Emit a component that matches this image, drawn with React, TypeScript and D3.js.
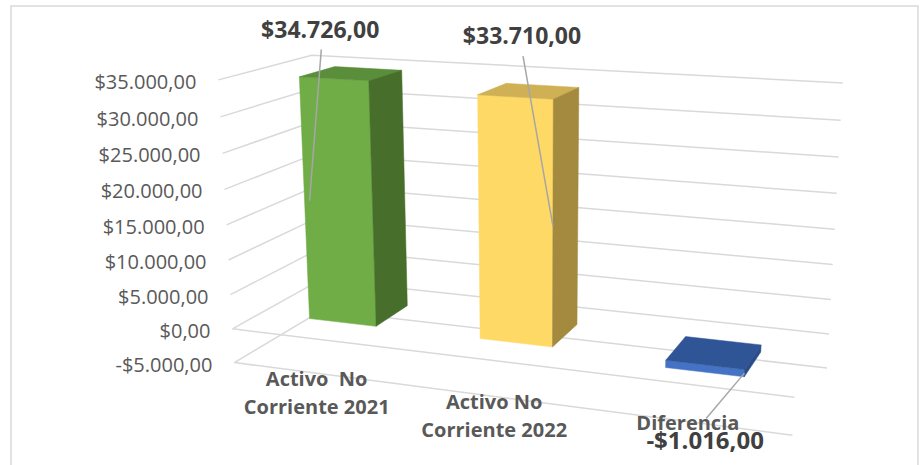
import { useRef, useEffect } from 'react';
import * as d3 from 'd3';

const W = 921;
const H = 465;

const categories = ['Activo  No\nCorriente 2021', 'Activo No\nCorriente 2022', 'Diferencia'];
const values = [34726, 33710, -1016];
const yTicks = [-5000, 0, 5000, 10000, 15000, 20000, 25000, 30000, 35000];
const frontColors = ['#70ad47', '#ffd966', '#4472c4'];
const topColors = ['#5b8e3a', '#cfb054', '#2f5597'];
const sideColors = ['#476f2b', '#a38a3f', '#2a4d8a'];

// value labels sit where Excel dropped them, relative to the top centre of each bar
const labelOffsets = [[-31, -44], [-7, -55], [-9, 88]];
const labelSizes = [23, 23, 24];

// corners of the 3d box as they appear on screen: [category x, value, depth z, px, py]
const frame = [
  [0, 35000, 0, 218, 80], [0, 35000, 1, 312, 55], [3, 35000, 1, 843, 83],
  [0, 30000, 0, 221, 117], [3, 30000, 1, 841, 120], [3, 25000, 1, 838, 157],
  [3, 20000, 1, 836, 193], [3, 10000, 1, 833, 265], [3, 5000, 1, 831, 300],
  [3, 0, 1, 829, 334], [3, -5000, 1, 827, 368], [0, 5000, 0, 230, 295],
  [0, 0, 0, 232, 329], [0, -5000, 0, 235, 362], [3, 0, 0, 795, 397],
  [3, -5000, 0, 792, 435],
];

const yWorld = d3.scaleLinear().domain([-5000, 35000]).range([-0.5, 3.5]);

// least squares DLT: 3d -> screen perspective matrix
function fitProjection() {
  const n = 11;
  const M = Array.from({ length: n }, () => new Array(n).fill(0));
  const r = new Array(n).fill(0);
  const add = (row, b) => {
    for (let i = 0; i < n; i++) {
      r[i] += row[i] * b;
      for (let j = 0; j < n; j++) M[i][j] += row[i] * row[j];
    }
  };
  for (const [X, v, Z, px, py] of frame) {
    const Y = yWorld(v);
    const u = (px - 460) / 400, w = (py - 250) / 400;
    add([X, Y, Z, 1, 0, 0, 0, 0, -u * X, -u * Y, -u * Z], u);
    add([0, 0, 0, 0, X, Y, Z, 1, -w * X, -w * Y, -w * Z], w);
  }
  for (let c = 0; c < n; c++) {
    let piv = c;
    for (let k = c + 1; k < n; k++) if (Math.abs(M[k][c]) > Math.abs(M[piv][c])) piv = k;
    [M[c], M[piv]] = [M[piv], M[c]];
    [r[c], r[piv]] = [r[piv], r[c]];
    for (let k = c + 1; k < n; k++) {
      const f = M[k][c] / M[c][c];
      for (let j = c; j < n; j++) M[k][j] -= f * M[c][j];
      r[k] -= f * r[c];
    }
  }
  const p = new Array(n).fill(0);
  for (let c = n - 1; c >= 0; c--) {
    let s = r[c];
    for (let j = c + 1; j < n; j++) s -= M[c][j] * p[j];
    p[c] = s / M[c][c];
  }
  return (X, v, Z) => {
    const Y = yWorld(v);
    const d = p[8] * X + p[9] * Y + p[10] * Z + 1;
    return [
      ((p[0] * X + p[1] * Y + p[2] * Z + p[3]) / d) * 400 + 460,
      ((p[4] * X + p[5] * Y + p[6] * Z + p[7]) / d) * 400 + 250,
    ];
  };
}

const locale = d3.formatLocale({ decimal: ',', thousands: '.', grouping: [3], currency: ['$', ''], minus: '-' });
const money = locale.format('$,.2f');

export default function App() {
  const svgRef = useRef(null);

  useEffect(() => {
    const svg = d3.select(svgRef.current);
    svg.selectAll('*').remove();

    const proj = fitProjection();
    const x = d3.scaleBand().domain(d3.range(values.length)).range([0, 3]).paddingInner(0.6).paddingOuter(0.3);
    const z0 = 0.3, z1 = 0.7;
    const line = d3.line();

    svg.append('rect')
      .attr('x', 11).attr('y', 6).attr('width', 907).attr('height', 470)
      .attr('fill', '#fff').attr('stroke', '#d9d9d9').attr('stroke-width', 1.5);

    // gridlines on side wall + back wall
    svg.append('g').selectAll('path')
      .data(yTicks)
      .join('path')
      .attr('d', t => line([proj(0, t, 0), proj(0, t, 1), proj(3, t, 1)]))
      .attr('fill', 'none')
      .attr('stroke', '#d9d9d9')
      .attr('stroke-width', 1.5);

    // floor front edges
    svg.append('g').selectAll('path')
      .data([0, -5000])
      .join('path')
      .attr('d', t => line([proj(0, t, 0), proj(3, t, 0)]))
      .attr('fill', 'none')
      .attr('stroke', '#d9d9d9')
      .attr('stroke-width', 1.5);

    // bars
    const bars = svg.append('g');
    values.forEach((v, i) => {
      const a = x(i), b = x(i) + x.bandwidth();
      const hi = Math.max(0, v), lo = Math.min(0, v);
      const faces = [
        { pts: [[a, lo, z0], [b, lo, z0], [b, hi, z0], [a, hi, z0]], fill: frontColors[i] },
        { pts: [[a, hi, z0], [b, hi, z0], [b, hi, z1], [a, hi, z1]], fill: topColors[i] },
        { pts: [[b, lo, z0], [b, lo, z1], [b, hi, z1], [b, hi, z0]], fill: sideColors[i] },
      ];
      bars.append('g').selectAll('path')
        .data(faces)
        .join('path')
        .attr('d', f => line(f.pts.map(q => proj(q[0], q[1], q[2]))) + 'Z')
        .attr('fill', f => f.fill)
        .attr('stroke', f => f.fill)
        .attr('stroke-width', 0.5);
    });

    // y axis labels
    svg.append('g').selectAll('text')
      .data(yTicks)
      .join('text')
      .attr('x', t => proj(0, t, 0)[0] - 22)
      .attr('y', t => proj(0, t, 0)[1] + 2)
      .attr('dy', '0.35em')
      .attr('text-anchor', 'end')
      .attr('font-family', '"Open Sans", sans-serif')
      .attr('font-size', 20)
      .attr('fill', '#595959')
      .text(t => money(t));

    // category labels
    const cat = svg.append('g');
    categories.forEach((c, i) => {
      const [cx, cy] = proj(x(i) + x.bandwidth() / 2, -5000, 0);
      const lines = c.split('\n');
      const t = cat.append('text')
        .attr('text-anchor', 'middle')
        .attr('font-family', '"Open Sans", sans-serif')
        .attr('font-weight', 'bold')
        .attr('font-size', 20)
        .attr('fill', '#595959')
        .attr('xml:space', 'preserve')
        .style('white-space', 'pre');
      lines.forEach((l, k) => {
        t.append('tspan')
          .attr('x', cx - 1)
          .attr('y', cy + 13 + k * 28 + (lines.length === 1 ? -5 : 0))
          .text(l);
      });
    });

    // value labels + leader lines
    const lab = svg.append('g');
    values.forEach((v, i) => {
      const mid = x(i) + x.bandwidth() / 2;
      const [ax, ay] = proj(mid, Math.max(0, v), (z0 + z1) / 2);
      const lx = ax + labelOffsets[i][0], ly = ay + labelOffsets[i][1];
      const edge = i === 0 ? x(i) + 0.03 : x(i) + x.bandwidth();
      const end = proj(edge, v / 2, z0);
      const start = v >= 0 ? [lx + 1, ly + 20] : [lx + 1, ly - 22];
      lab.append('line')
        .attr('x1', start[0]).attr('y1', start[1])
        .attr('x2', end[0]).attr('y2', end[1])
        .attr('stroke', '#a6a6a6').attr('stroke-width', 1.5);
      lab.append('text')
        .attr('x', lx).attr('y', ly)
        .attr('dy', '0.35em')
        .attr('text-anchor', 'middle')
        .attr('font-family', '"Open Sans", sans-serif')
        .attr('font-weight', 'bold')
        .attr('font-size', labelSizes[i])
        .attr('fill', '#404040')
        .text(money(v));
    });
  }, []);

  return <svg ref={svgRef} width={W} height={H} style={{ position: 'absolute', left: 0, top: 0 }} />;
}
